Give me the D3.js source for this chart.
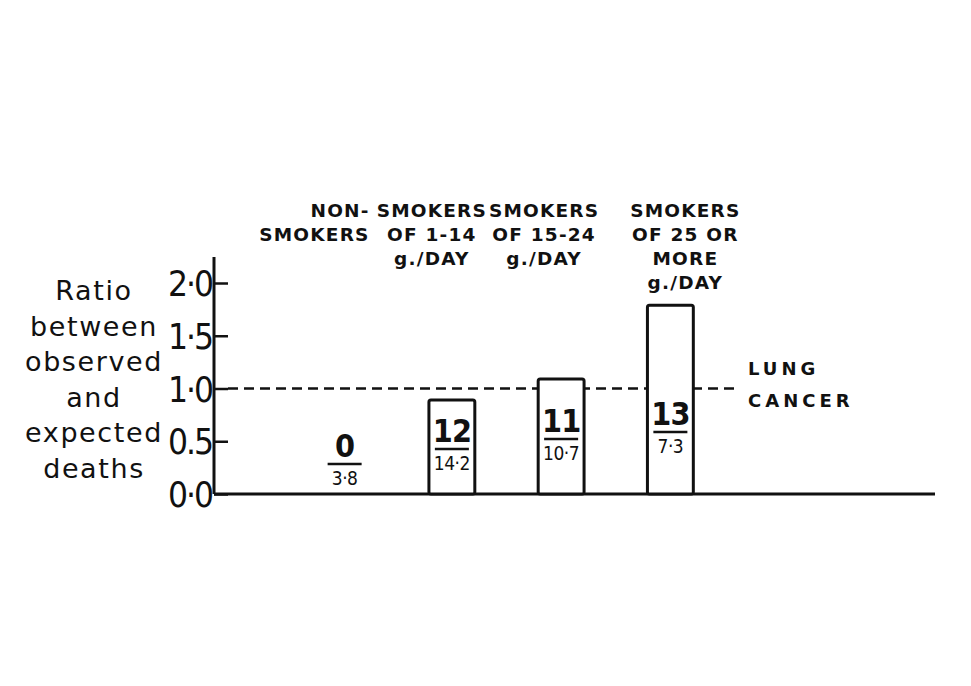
<!DOCTYPE html>
<html>
<head>
<meta charset="utf-8">
<script src="https://cdn.jsdelivr.net/npm/d3@7"></script>
<style>
  html, body { margin: 0; padding: 0; background: #ffffff; }
  svg { display: block; }
</style>
</head>
<body>
<svg id="chart" width="971" height="686"></svg>
<script>
// ---- data ----
const categories = ["NON-SMOKERS", "SMOKERS OF 1-14 g./DAY", "SMOKERS OF 15-24 g./DAY", "SMOKERS OF 25 OR MORE g./DAY"];
const categoryLines = [
  ["NON-", "SMOKERS"],
  ["SMOKERS", "OF 1-14", "g./DAY"],
  ["SMOKERS", "OF 15-24", "g./DAY"],
  ["SMOKERS", "OF 25 OR", "MORE", "g./DAY"]
];
const ratios = [0, 0.89, 1.09, 1.79];
const observed = ["0", "12", "11", "13"];
const expected = ["3·8", "14·2", "10·7", "7·3"];
const yTicks = [0, 0.5, 1.0, 1.5, 2.0];
const yTickLabels = ["0·0", "0.5", "1·0", "1·5", "2·0"];
const referenceValue = 1.0;
const referenceLabel = ["LUNG", "CANCER"];
const yTitle = ["Ratio", "between", "observed", "and", "expected", "deaths"];

// ---- drawing ----
const svg = d3.select("#chart");
svg.append("rect").attr("width", 971).attr("height", 686).attr("fill", "#ffffff");

const y = d3.scaleLinear().domain([0, 2]).range([494, 283]);
const x = d3.scaleBand().domain(categories).range([288, 725]).paddingInner(0.58).paddingOuter(0.29);

const ink = "#111111";
const axisX = 214;

// baseline
svg.append("line").attr("x1", axisX).attr("x2", 935).attr("y1", y(0)).attr("y2", y(0))
  .attr("stroke", ink).attr("stroke-width", 3);

// y axis
const yAxis = d3.axisRight(y).tickValues(yTicks).tickSize(14).tickFormat((d, i) => yTickLabels[i]);
const gy = svg.append("g").attr("transform", `translate(${axisX},0)`).call(yAxis);
gy.select(".domain").attr("d", `M0,257V${y(0)}`).attr("stroke", ink).attr("stroke-width", 3);
gy.selectAll(".tick line").attr("stroke", ink).attr("stroke-width", 2.5);
gy.selectAll(".tick text")
  .attr("x", -2).attr("dy", "0.36em")
  .attr("text-anchor", "end")
  .attr("fill", ink)
  .style("font-family", "'DejaVu Sans Condensed', 'Liberation Sans Narrow', sans-serif")
  .style("font-size", "35px")
  .style("letter-spacing", "-2px");

// y title
const tt = svg.append("text").attr("text-anchor", "middle").attr("fill", ink)
  .style("font-family", "'DejaVu Sans', sans-serif").style("font-size", "27px").style("letter-spacing", "1.6px");
yTitle.forEach((t, i) => {
  tt.append("tspan").attr("x", 94).attr("y", 300 + i * 35.5).text(t);
});

// reference dashed line
svg.append("line").attr("x1", axisX + 14).attr("x2", 736).attr("y1", y(referenceValue)).attr("y2", y(referenceValue))
  .attr("stroke", ink).attr("stroke-width", 2.5).attr("stroke-dasharray", "10,6");
const rl = svg.append("text").attr("fill", ink)
  .style("font-family", "'DejaVu Sans', sans-serif").style("font-weight", "bold")
  .style("font-size", "18px").style("letter-spacing", "4px");
referenceLabel.forEach((t, i) => {
  rl.append("tspan").attr("x", 748).attr("y", 375 + i * 32).text(t);
});

// bars
svg.selectAll("rect.bar").data(categories.filter((c, i) => ratios[i] > 0))
  .join("rect").attr("class", "bar")
  .attr("x", d => x(d)).attr("width", x.bandwidth())
  .attr("y", d => y(ratios[categories.indexOf(d)]))
  .attr("height", d => y(0) - y(ratios[categories.indexOf(d)]))
  .attr("rx", 2)
  .attr("fill", "#ffffff").attr("stroke", ink).attr("stroke-width", 3);

// fractions
const fracBase = [457, 442, 432, 425]; // numerator baselines (layout)
const fracFont = "'DejaVu Sans Condensed', 'Liberation Sans Narrow', sans-serif";
categories.forEach((c, i) => {
  const cx = x(c) + x.bandwidth() / 2 + (i === 0 ? 2 : 0);
  const nb = fracBase[i];
  svg.append("text").attr("x", cx).attr("y", nb).attr("text-anchor", "middle").attr("fill", ink)
    .style("font-family", fracFont).style("font-weight", "bold").style("font-size", "32px")
    .style("letter-spacing", "-1px").text(observed[i]);
  svg.append("line").attr("x1", cx - 17).attr("x2", cx + 17).attr("y1", nb + 7).attr("y2", nb + 7)
    .attr("stroke", ink).attr("stroke-width", 2.5);
  svg.append("text").attr("x", cx).attr("y", nb + 28).attr("text-anchor", "middle").attr("fill", ink)
    .style("font-family", fracFont).style("font-size", "19px").style("letter-spacing", "-0.5px")
    .text(expected[i]);
});

// category labels
const labelDx = [27, -20, -17, 15];
categories.forEach((c, i) => {
  const cx = x(c) + x.bandwidth() / 2 + labelDx[i];
  const g = svg.append("text").attr("fill", ink)
    .attr("text-anchor", i === 0 ? "end" : "middle")
    .style("font-family", "'DejaVu Sans', sans-serif").style("font-weight", "bold")
    .style("font-size", "18.5px").style("letter-spacing", "1.2px");
  categoryLines[i].forEach((t, j) => {
    g.append("tspan").attr("x", cx).attr("y", 217 + j * 24).text(t);
  });
});
</script>
</body>
</html>
